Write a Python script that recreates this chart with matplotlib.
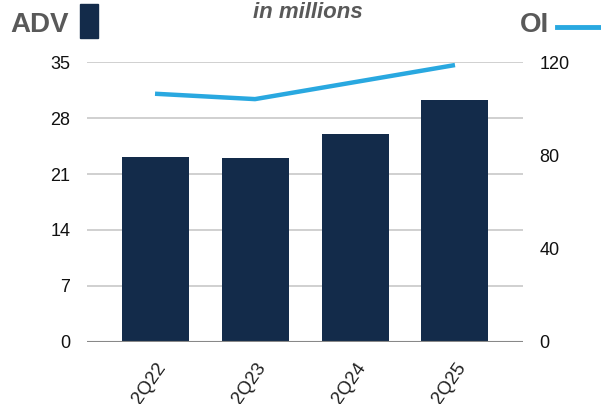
import matplotlib
matplotlib.use("Agg")
import matplotlib.pyplot as plt
from matplotlib.patches import Rectangle
from matplotlib.lines import Line2D

plt.rcParams['font.family'] = ['Liberation Sans', 'DejaVu Sans']

quarters = ["2Q22", "2Q23", "2Q24", "2Q25"]
adv = [23.1, 22.95, 26.0, 30.25]      # left axis, bars
oi = [106.4, 104.1, 111.4, 118.7]     # right axis, line

bar_color = "#132b4a"
line_color = "#29a8e0"
label_gray = "#595959"

fig = plt.figure(figsize=(6.01, 4.04), dpi=100)
ax = fig.add_axes([0.1448, 0.1535, 0.7254, 0.693])
ax2 = ax.twinx()

x = list(range(len(quarters)))
ax.bar(x, adv, width=0.67, color=bar_color, zorder=2)
ax2.plot(x, oi, color=line_color, linewidth=3.2, solid_capstyle="butt", zorder=3)

ax.set_xlim(-0.68, 3.68)
ax.set_ylim(0, 35)
ax.set_yticks([0, 7, 14, 21, 28, 35])
ax2.set_ylim(0, 120)
ax2.set_yticks([0, 40, 80, 120])

ax.yaxis.grid(True, color="#c8c8c8", linewidth=1.2, zorder=0)
ax.set_axisbelow(True)
for a in (ax, ax2):
    for s in a.spines.values():
        s.set_visible(False)
    a.tick_params(length=0, labelsize=13, colors="#111111")
ax.axhline(0, color="#888888", linewidth=1.5, zorder=3)
ax.tick_params(axis="y", pad=12)
ax2.tick_params(axis="y", pad=12)

ax.set_xticks(x)
ax.set_xticklabels(quarters, rotation=55, ha="right", rotation_mode="anchor",
                   fontsize=13.5, color="#222222")
ax.tick_params(axis="x", pad=13)

# header texts and legend-like markers
fig.text(0.017, 0.938, "ADV", fontsize=20, fontweight="bold", color=label_gray,
         ha="left", va="center")
fig.patches.append(Rectangle((0.133, 0.906), 0.030, 0.084, transform=fig.transFigure,
                             color=bar_color, figure=fig))
fig.text(0.512, 0.968, "in millions", fontsize=16, fontweight="bold", style="italic",
         color=label_gray, ha="center", va="center")
fig.text(0.865, 0.938, "OI", fontsize=20, fontweight="bold", color=label_gray,
         ha="left", va="center")
fig.lines.append(Line2D([0.927, 1.0], [0.933, 0.933], transform=fig.transFigure,
                        color=line_color, linewidth=3.5, figure=fig))

fig.savefig("out.png", dpi=100)
